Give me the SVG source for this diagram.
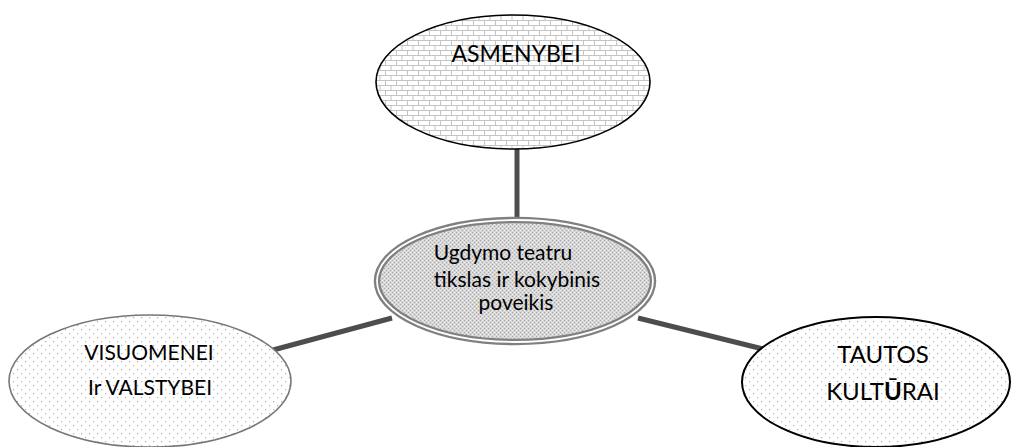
<svg xmlns="http://www.w3.org/2000/svg" width="1012" height="447" viewBox="0 0 1012 447">
<style>
.lbl{font-family:Lato,"Liberation Sans",sans-serif;fill:#000;text-anchor:middle}
.conn{stroke:#4d4d4d;stroke-width:5;fill:none}
</style>
<defs>
<pattern id="brick" width="22" height="10" patternUnits="userSpaceOnUse">
<rect width="22" height="10" fill="#fff"/>
<path d="M0 0.5H22M0 5.5H22M0.5 0V5M11.5 0V5M6 5V10M17 5V10" stroke="#c4c4c4" stroke-width="1"/>
</pattern>
<pattern id="dots" width="8" height="8" patternUnits="userSpaceOnUse">
<rect width="8" height="8" fill="#fff"/>
<rect x="1" y="1" width="1.2" height="1.2" fill="#b0b0b0"/>
<rect x="5" y="5" width="1.2" height="1.2" fill="#b0b0b0"/>
</pattern>
<pattern id="fine" width="4" height="4" patternUnits="userSpaceOnUse">
<rect width="4" height="4" fill="#d6d6d6"/>
<rect x="0" y="0" width="1" height="1" fill="#a8a8a8"/>
<rect x="2" y="2" width="1" height="1" fill="#a8a8a8"/>
<rect x="2" y="0" width="1" height="1" fill="#eeeeee"/>
<rect x="0" y="2" width="1" height="1" fill="#eeeeee"/>
</pattern>
</defs>
<rect width="1012" height="447" fill="#fff"/>
<g id="connectors">
<line class="conn" x1="517" y1="148" x2="517" y2="218"/>
<line class="conn" x1="273" y1="350" x2="392" y2="318"/>
<line class="conn" x1="638" y1="318" x2="763" y2="349"/>
</g>
<g id="node-asmenybei">
<ellipse cx="513" cy="82" rx="137" ry="67" fill="url(#brick)" stroke="#000" stroke-width="1.6"/>
<text class="lbl" x="516" y="62" font-size="23">ASMENYBEI</text>
</g>
<g id="node-center">
<ellipse cx="515" cy="281" rx="138" ry="61" fill="url(#fine)" stroke="#808080" stroke-width="6.5"/>
<ellipse cx="515" cy="281" rx="138" ry="61" fill="none" stroke="#fff" stroke-width="1.8"/>
<text class="lbl" x="503" y="260" font-size="21">Ugdymo teatru</text>
<text class="lbl" x="517" y="287" font-size="21">tikslas ir kokybinis</text>
<text class="lbl" x="516" y="310" font-size="21">poveikis</text>
</g>
<g id="node-visuomenei">
<ellipse cx="150" cy="381" rx="141" ry="66" fill="url(#dots)" stroke="#777" stroke-width="1.6"/>
<text class="lbl" x="149" y="360" font-size="21">VISUOMENEI</text>
<text class="lbl" x="150" y="395" font-size="21">Ir VALSTYBEI</text>
</g>
<g id="node-tautos">
<ellipse cx="876" cy="382" rx="134" ry="65" fill="url(#dots)" stroke="#000" stroke-width="2"/>
<text class="lbl" x="883" y="363" font-size="24">TAUTOS</text>
<text class="lbl" x="883" y="400" font-size="24">KULT<tspan font-weight="bold">Ū</tspan>RAI</text>
</g>
</svg>
